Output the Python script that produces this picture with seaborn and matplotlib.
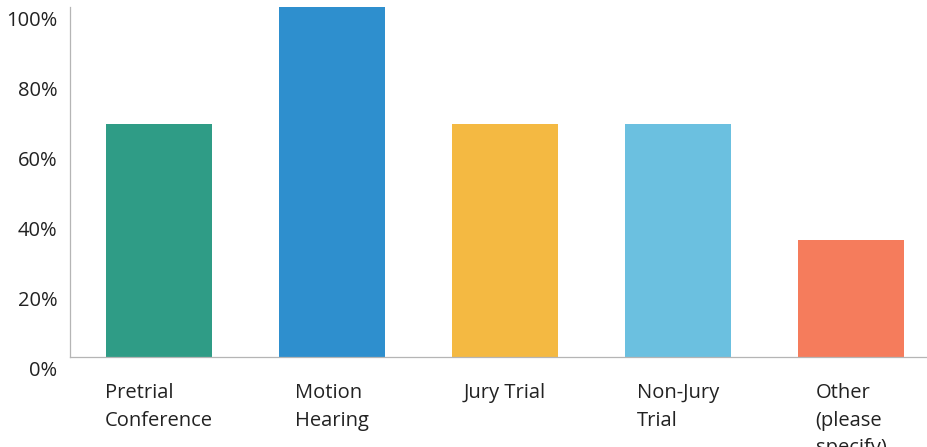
import matplotlib
matplotlib.use("Agg")
import matplotlib.pyplot as plt
import matplotlib.transforms as mtransforms
import seaborn as sns
import pandas as pd

categories = ["Pretrial\nConference", "Motion\nHearing", "Jury Trial", "Non-Jury\nTrial", "Other\n(please\nspecify)"]
values = [66.67, 100.0, 66.67, 66.67, 33.33]
colors = ["#2f9c86", "#2e8fce", "#f4b942", "#6bc0e0", "#f57c5c"]
yticks = [0, 20, 40, 60, 80, 100]
ytick_labels = ["0%", "20%", "40%", "60%", "80%", "100%"]

sns.set_theme(style="white")
plt.rcParams["font.family"] = ["Open Sans", "DejaVu Sans"]

df = pd.DataFrame({"category": categories, "value": values})

fig = plt.figure(figsize=(9.27, 4.47), dpi=100)
ax = fig.add_axes([70 / 927, 90 / 447, 867 / 927, 350 / 447])

sns.barplot(data=df, x="category", y="value", hue="category", palette=colors,
            order=categories, hue_order=categories, width=0.61, saturation=1,
            legend=False, ax=ax, edgecolor="none")

ax.set_xlim(-0.515, 4.497)
ax.set_ylim(0, 100)
ax.set_xlabel("")
ax.set_ylabel("")
ax.set_yticks(yticks)
ax.set_yticklabels(ytick_labels)
ax.tick_params(axis="y", length=0, pad=9, labelsize=14.5, labelcolor="#222222")
ax.tick_params(axis="x", length=0, pad=19, labelsize=14.5, labelcolor="#222222")
for lab in ax.get_xticklabels():
    lab.set_ha("center")
    lab.set_va("top")
    lab.set_multialignment("left")
    lab.set_linespacing(1.5)

for side in ["top", "right"]:
    ax.spines[side].set_visible(False)
ax.spines["left"].set_color("#b5b5b5")
ax.spines["left"].set_linewidth(0.9)
ax.spines["bottom"].set_color("#b5b5b5")
ax.spines["bottom"].set_linewidth(0.9)
ax.grid(False)

fig.canvas.draw()
off = mtransforms.ScaledTranslation(0, -11 / 100, fig.dpi_scale_trans)
for lab in ax.get_yticklabels():
    lab.set_transform(lab.get_transform() + off)

fig.savefig("out.png", dpi=100)
